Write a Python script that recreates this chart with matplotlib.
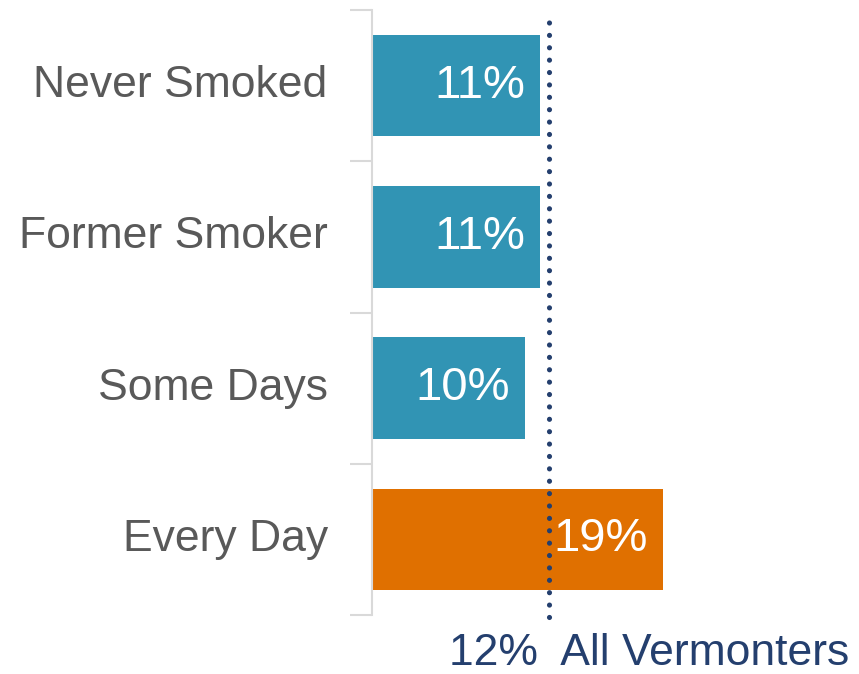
import matplotlib.pyplot as plt
import numpy as np

# data
categories = ['Never Smoked', 'Former Smoker', 'Some Days', 'Every Day']
values = [11, 11, 10, 19]
labels = ['11%', '11%', '10%', '19%']
all_vt = 11.6
all_vt_label = '12%  All Vermonters'

blue = '#3194B4'
orange = '#E07000'
navy = '#243F6E'
grey_text = '#595959'
colors = [blue, blue, blue, orange]

plt.rcParams['font.family'] = ['Liberation Sans', 'DejaVu Sans']

fig = plt.figure(figsize=(8.59, 6.74), dpi=100)
ax = fig.add_axes([372 / 859, 59 / 674, (859 - 372) / 859, 605 / 674])

y = np.arange(len(categories))
ax.barh(y, values, height=0.67, color=colors, zorder=2)
ax.set_ylim(3.5, -0.5)
ax.set_xlim(0, 487 / 15.3)

for i, (v, lab) in enumerate(zip(values, labels)):
    ax.text(v - 1.0, i, lab, color='white', fontsize=34, ha='right', va='center', zorder=4)

# reference line (dotted, round dots)
ax.axvline(all_vt, ymin=-0.004, ymax=0.995, color=navy, lw=3.7, linestyle=(0, (0.01, 2.4)),
           dash_capstyle='round', zorder=3, clip_on=False)
ax.text(all_vt - 6.55, 3.83, all_vt_label, color=navy, fontsize=32, ha='left', va='baseline',
        clip_on=False)

# category labels
for i, c in enumerate(categories):
    ax.text(-2.9, i, c, color=grey_text, fontsize=32, ha='right', va='center')

ax.set_yticks(np.arange(-0.5, 4, 1))
ax.set_yticklabels([])
ax.tick_params(axis='y', length=16, width=1.5, color='#D9D9D9')
ax.set_xticks([])
for s in ['top', 'right', 'bottom']:
    ax.spines[s].set_visible(False)
ax.spines['left'].set_color('#D9D9D9')
ax.spines['left'].set_linewidth(1.5)

fig.savefig('out.png', dpi=100)
